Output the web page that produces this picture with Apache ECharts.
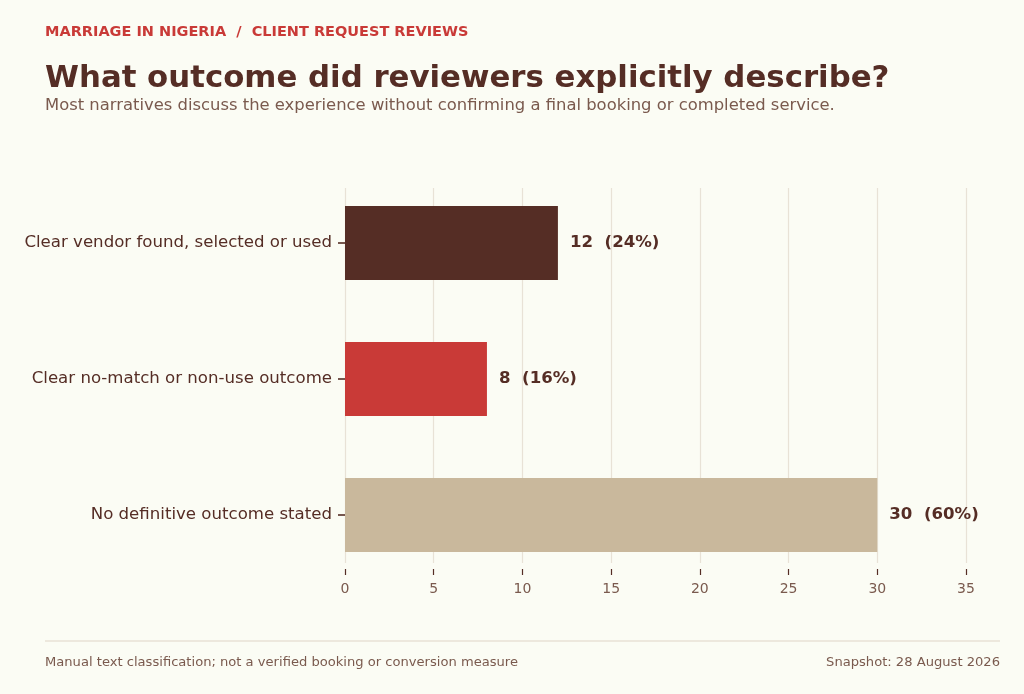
<!DOCTYPE html>
<html>
<head>
    <meta charset="utf-8">
    <style type="text/css">
        *, html, body { margin: 0; padding: 0; }
        html, body, #container { height: 100%; background: #fbfcf4; }
    </style>
    <script type="text/javascript" src="https://cdn.jsdelivr.net/npm/echarts@6/dist/echarts.min.js"></script>
</head>
<body>
<div id="container"></div>
<script type="text/javascript">
    // data
    const categories = ["Clear vendor found, selected or used", "Clear no-match or non-use outcome", "No definitive outcome stated"];
    const counts = [12, 8, 30];
    const barColors = ["#552d25", "#c93a37", "#c9b89c"];
    const xTicks = [0, 5, 10, 15, 20, 25, 30, 35];

    const total = counts.reduce((a, b) => a + b, 0);
    const font = "DejaVu Sans";
    const ink = "#552d25";
    const soft = "#7a5a4e";
    const grid = "#e8e2d6";

    let myChart = echarts.init(document.getElementById("container"));

    let option = {
        backgroundColor: "#fbfcf4",
        animation: false,
        textStyle: { fontFamily: font },
        title: [
            { text: "MARRIAGE IN NIGERIA  /  CLIENT REQUEST REVIEWS", left: 45, top: 25, padding: 0,
              textStyle: { fontFamily: font, fontSize: 14.5, fontWeight: "bold", color: "#c93a37" } },
            { text: "What outcome did reviewers explicitly describe?", left: 45, top: 63, padding: 0,
              textStyle: { fontFamily: font, fontSize: 30.8, fontWeight: "bold", color: ink } },
            { text: "Most narratives discuss the experience without confirming a final booking or completed service.", left: 45, top: 98, padding: 0,
              textStyle: { fontFamily: font, fontSize: 16.4, fontWeight: "normal", color: soft } },
            { text: "Manual text classification; not a verified booking or conversion measure", left: 45, top: 656, padding: 0,
              textStyle: { fontFamily: font, fontSize: 13.1, fontWeight: "normal", color: soft } },
            { text: "Snapshot: 28 August 2026", right: 24, top: 656, padding: 0,
              textStyle: { fontFamily: font, fontSize: 13.1, fontWeight: "normal", color: soft } }
        ],
        graphic: [
            { type: "line", shape: { x1: 45, y1: 641, x2: 1000, y2: 641 },
              style: { stroke: grid, lineWidth: 1.5 } }
        ],
        grid: [
            // bars
            { left: 345, right: 58, top: 175, height: 408 },
            // gridlines and x ticks
            { left: 345, right: 58, top: 188, bottom: 131 }
        ],
        xAxis: [
            { gridIndex: 0, type: "value", min: 0, max: 35, interval: 5, show: false },
            { gridIndex: 1, type: "value", min: 0, max: 35, interval: 5, offset: 6,
              axisLine: { show: false },
              axisTick: { show: true, length: 6, lineStyle: { color: ink, width: 1.2 } },
              axisLabel: { fontFamily: font, fontSize: 14, color: soft, margin: 13,
                           formatter: v => xTicks.indexOf(v) >= 0 ? String(v) : "" },
              splitLine: { show: true, lineStyle: { color: grid, width: 1.2 } } }
        ],
        yAxis: [
            { gridIndex: 0, type: "category", data: categories, inverse: true,
              axisLine: { show: false },
              axisTick: { show: true, alignWithLabel: true, length: 7, lineStyle: { color: ink, width: 1.6 } },
              axisLabel: { fontFamily: font, fontSize: 16.6, color: ink, margin: 13 } },
            { gridIndex: 1, type: "category", data: categories, show: false }
        ],
        series: [{
            type: "bar",
            xAxisIndex: 0,
            yAxisIndex: 0,
            barWidth: 74,
            data: counts.map((v, i) => ({ value: v, itemStyle: { color: barColors[i] } })),
            label: {
                show: true,
                position: "right",
                distance: 12,
                fontFamily: font,
                fontSize: 16.6,
                fontWeight: "bold",
                color: ink,
                formatter: p => p.value + "  (" + Math.round(p.value / total * 100) + "%)"
            }
        }]
    };

    myChart.setOption(option);
    window.onresize = function () { myChart.resize(); };
</script>
</body>
</html>
